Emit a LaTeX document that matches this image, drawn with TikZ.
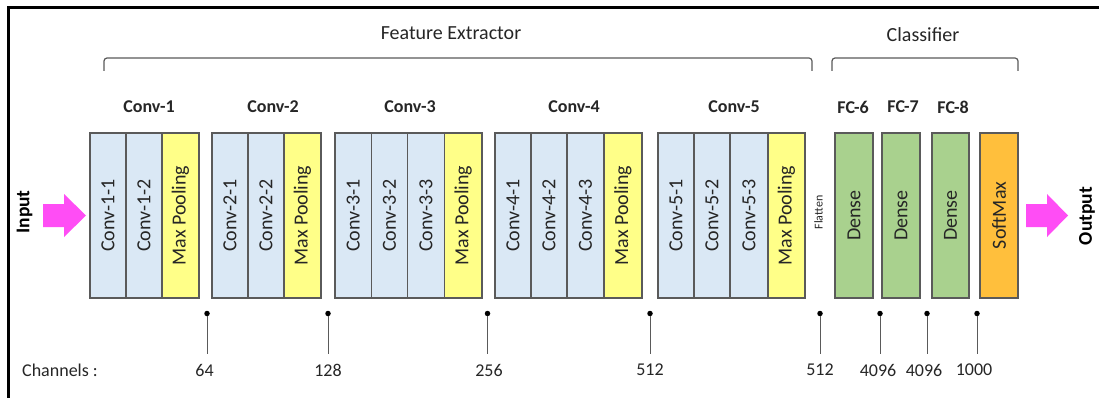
\documentclass[tikz,border=0pt]{standalone}
\usepackage{fontspec}
\setmainfont{Carlito}
\definecolor{convfill}{HTML}{DAE8F5}
\definecolor{poolfill}{HTML}{FFFF88}
\definecolor{densefill}{HTML}{A9D18E}
\definecolor{softfill}{HTML}{FFBF3C}
\definecolor{cellline}{HTML}{5A5A5A}
\definecolor{arrowfill}{HTML}{FF4DF5}
\definecolor{inkgray}{HTML}{262626}
\begin{document}
\begin{tikzpicture}[x=1pt, y=-1pt,
  cell/.style={draw=cellline, line width=1.1pt, rotate=90, inner sep=0pt,
    minimum width=165pt, text=inkgray, font=\fontsize{20}{24}\selectfont},
  conv/.style={cell, fill=convfill},
  pool/.style={cell, fill=poolfill},
  dense/.style={cell, fill=densefill},
  soft/.style={cell, fill=softfill},
  head/.style={text=inkgray, font=\bfseries\fontsize{18}{22}\selectfont},
  title/.style={text=inkgray, font=\fontsize{20}{24}\selectfont},
  num/.style={text=inkgray, font=\fontsize{18}{22}\selectfont, inner sep=0pt},
  brk/.style={draw=cellline, line width=1.2pt, rounded corners=3pt},
  dot/.style={circle, fill=black, inner sep=0pt, minimum size=5.5pt},
  pinline/.style={draw=cellline, line width=1pt},
  flow/.style={fill=arrowfill, draw=none},
  side/.style={rotate=90, text=black, font=\bfseries\fontsize{19.5}{23}\selectfont}
]
\useasboundingbox (0,0) rectangle (1099,398);
\fill[white] (0,0) rectangle (1099,398);

% frame edges
\draw[line width=3pt] (8.5,398) -- (8.5,7.5) -- (1099,7.5);

% group titles and brackets
\node[title] (fe) at (451,33) {Feature Extractor};
\node[title] (cl) at (923,35) {Classifier};
\draw[brk] (104,71) -- (104,58) -- (812,58) -- (812,71);
\draw[brk] (832,71) -- (832,58) -- (1018,58) -- (1018,71);

% block headers
\node[head] (h1) at (149,107) {Conv-1};
\node[head] (h2) at (273,107) {Conv-2};
\node[head] (h3) at (410,107) {Conv-3};
\node[head] (h4) at (574,107) {Conv-4};
\node[head] (h5) at (734,107) {Conv-5};
\node[head] (h6) at (853,107) {FC-6};
\node[head] (h7) at (903,107) {FC-7};
\node[head] (h8) at (953,107) {FC-8};

% convolution block 1
\node[conv, minimum height=36pt] (c11) at (108,215.5) {Conv-1-1};
\node[conv, minimum height=36pt] (c12) at (144,215.5) {Conv-1-2};
\node[pool, minimum height=37pt] (p1) at (180.5,215.5) {Max Pooling};
% convolution block 2
\node[conv, minimum height=36pt] (c21) at (230,215.5) {Conv-2-1};
\node[conv, minimum height=36pt] (c22) at (266,215.5) {Conv-2-2};
\node[pool, minimum height=37pt] (p2) at (302.5,215.5) {Max Pooling};
% convolution block 3
\node[conv, minimum height=36.5pt] (c31) at (353.25,215.5) {Conv-3-1};
\node[conv, minimum height=36pt] (c32) at (389.5,215.5) {Conv-3-2};
\node[conv, minimum height=37pt] (c33) at (426,215.5) {Conv-3-3};
\node[pool, minimum height=37.5pt] (p3) at (463.25,215.5) {Max Pooling};
% convolution block 4
\node[conv, minimum height=36pt] (c41) at (513,215.5) {Conv-4-1};
\node[conv, minimum height=36pt] (c42) at (549,215.5) {Conv-4-2};
\node[conv, minimum height=37pt] (c43) at (585.5,215.5) {Conv-4-3};
\node[pool, minimum height=38pt] (p4) at (623,215.5) {Max Pooling};
% convolution block 5
\node[conv, minimum height=36pt] (c51) at (676,215.5) {Conv-5-1};
\node[conv, minimum height=36pt] (c52) at (712,215.5) {Conv-5-2};
\node[conv, minimum height=38pt] (c53) at (749,215.5) {Conv-5-3};
\node[pool, minimum height=37pt] (p5) at (786.5,215.5) {Max Pooling};

% flatten and classifier
\node[rotate=90, text=inkgray, font=\fontsize{12}{14}\selectfont] (fl) at (818.5,212.5) {Flatten};
\node[dense, minimum height=38pt] (f6) at (854,215.5) {Dense};
\node[dense, minimum height=38pt] (f7) at (901,215.5) {Dense};
\node[dense, minimum height=37pt] (f8) at (950.5,215.5) {Dense};
\node[soft, minimum height=38pt] (sm) at (999,215.5) {SoftMax};

% input and output arrows
\node[side] (in) at (24.5,212) {Input};
\fill[flow] (43,204) -- (64,204) -- (64,194) -- (86,215.5) -- (64,237) -- (64,227) -- (43,227) -- cycle;
\fill[flow] (1026,204) -- (1047,204) -- (1047,194) -- (1068,215.5) -- (1047,237) -- (1047,227) -- (1026,227) -- cycle;
\node[side] (out) at (1087,216) {Output};

% channel counts
\node[num, anchor=west] (chl) at (22,370) {Channels :};
\foreach \i/\px/\lx/\val in {1/207/204.5/64, 2/328/328/128, 3/487.5/489/256, 4/650/650/512,
                             5/820/820/512, 6/880/878/4096, 7/927/924/4096, 8/977/974/1000} {
  \node[dot] (d\i) at (\px,313.5) {};
  \coordinate (e\i) at (\px,354);
  \draw[pinline] (d\i) -- (e\i);
  \node[num] (n\i) at (\lx,370) {\val};
}
\end{tikzpicture}
\end{document}
